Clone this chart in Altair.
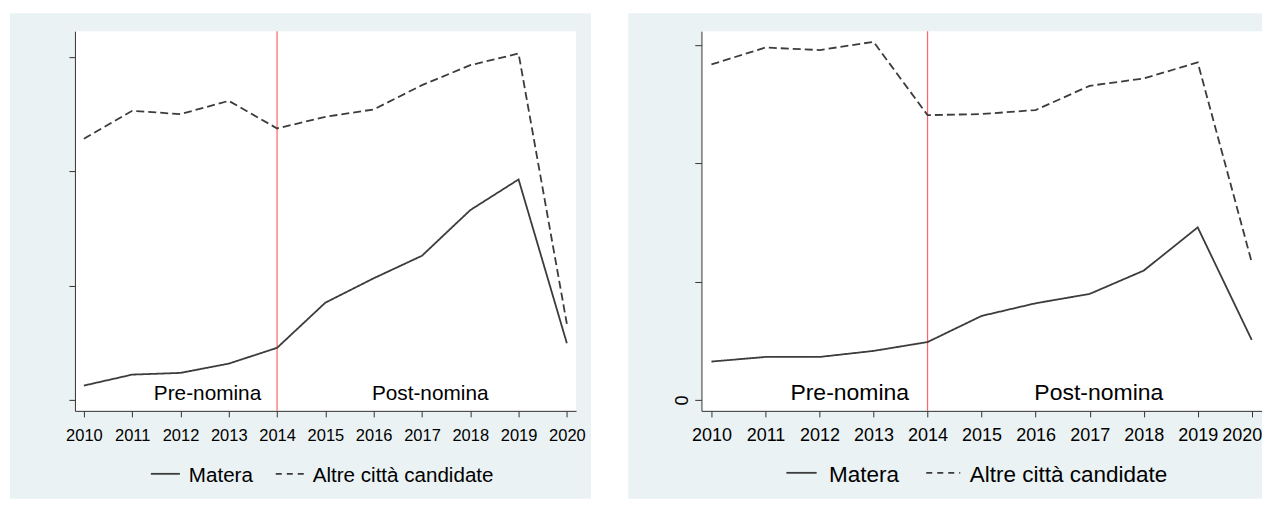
import altair as alt
import pandas as pd

# ---------------- data (values in axis-tick units) ----------------
years = list(range(2010, 2021))
series_names = ["Matera", "Altre città candidate"]

left_matera = [0.125, 0.221, 0.236, 0.317, 0.455, 0.850, 1.063, 1.260, 1.659, 1.927, 0.495]
left_altre = [2.282, 2.527, 2.498, 2.614, 2.373, 2.474, 2.539, 2.751, 2.926, 3.028, 0.664]

right_matera = [0.324, 0.363, 0.363, 0.414, 0.489, 0.710, 0.817, 0.896, 1.093, 1.459, 0.507]
right_altre = [2.837, 2.980, 2.958, 3.028, 2.408, 2.417, 2.451, 2.656, 2.718, 2.854, 1.164]

y_ticks = [0, 1, 2, 3]
nomination_year = [2014]
ann_labels = ["Pre-nomina", "Post-nomina"]
ann_x = [2012.56, 2017.17]
ann_y = [0, 0]

BG = "#eaf2f3"
INK = "#3c3c3c"
AXC = "#333333"
RED = "#ff4a4a"
FONT = "Liberation Sans, Arial, Helvetica, sans-serif"


def panel(matera, altre, W, H, ydom, tick_fs, ann_fs, leg_fs,
          bg_box, leg, ytick_size, show_zero, dash, last_shift):
    df = pd.DataFrame({
        "year": years + years,
        "value": matera + altre,
        "series": [series_names[0]] * len(years) + [series_names[1]] * len(years),
    })
    xs = alt.Scale(domain=[2009.815, 2020.19], nice=False, zero=False)
    ys = alt.Scale(domain=ydom, nice=False, zero=False)
    xkw = {}
    if last_shift is not None:
        xkw["labelAlign"] = alt.condition("datum.value == 2020", alt.value("right"), alt.value("center"))
        xkw["labelOffset"] = alt.condition("datum.value == 2020", alt.value(last_shift), alt.value(0))
    xaxis = alt.Axis(values=years, format="d", tickSize=6, labelPadding=23.7,
                     labelBaseline="alphabetic", labelFont=FONT, labelFontSize=tick_fs,
                     labelColor="black", domainColor=AXC, tickColor=AXC, grid=False,
                     title=None, labelFlush=False, labelOverlap=False, zindex=1, **xkw)
    if show_zero:
        yaxis = alt.Axis(values=y_ticks, labelExpr="datum.value == 0 ? '0' : ''",
                         labelAngle=270, labelAlign="center", labelBaseline="alphabetic",
                         labelPadding=7, tickSize=ytick_size, labelFont=FONT,
                         labelFontSize=tick_fs, labelColor="black", domainColor=AXC,
                         tickColor=AXC, grid=False, title=None, zindex=1)
    else:
        yaxis = alt.Axis(values=y_ticks, labels=False, tickSize=ytick_size,
                         domainColor=AXC, tickColor=AXC, grid=False, title=None, zindex=1)

    one = pd.DataFrame({"a": [0]})
    bg = alt.Chart(one).mark_rect(color=BG).encode(
        x=alt.value(bg_box[0]), x2=alt.value(bg_box[1]),
        y=alt.value(bg_box[2]), y2=alt.value(bg_box[3]))
    plot_bg = alt.Chart(one).mark_rect(color="white").encode(
        x=alt.value(0), x2=alt.value(W), y=alt.value(0), y2=alt.value(H))
    red = alt.Chart(pd.DataFrame({"year": nomination_year})).mark_rule(
        color=RED, strokeWidth=1.2, opacity=0.85).encode(
        x=alt.X("year:Q", scale=xs, axis=xaxis), y=alt.value(0), y2=alt.value(H))
    lines = alt.Chart(df).mark_line(color=INK, strokeWidth=1.8).encode(
        x=alt.X("year:Q", scale=xs, axis=xaxis),
        y=alt.Y("value:Q", scale=ys, axis=yaxis),
        strokeDash=alt.StrokeDash("series:N", scale=alt.Scale(domain=series_names,
                                  range=[[1, 0], dash]), legend=None),
        detail="series:N")
    ann = alt.Chart(pd.DataFrame({"x": ann_x, "y": ann_y, "label": ann_labels})).mark_text(
        font=FONT, fontSize=ann_fs, color="black", baseline="alphabetic", align="center").encode(
        x=alt.X("x:Q", scale=xs, axis=xaxis), y=alt.Y("y:Q", scale=ys, axis=yaxis), text="label:N")

    leg_solid = alt.Chart(one).mark_rule(color=INK, strokeWidth=1.8).encode(
        x=alt.value(leg[0]), x2=alt.value(leg[1]), y=alt.value(leg[2]))
    leg_dash = alt.Chart(one).mark_rule(color=INK, strokeWidth=1.8, strokeDash=[6, 5]).encode(
        x=alt.value(leg[4]), x2=alt.value(leg[5]), y=alt.value(leg[2]))
    t1 = alt.Chart(pd.DataFrame({"label": [series_names[0]]})).mark_text(
        font=FONT, fontSize=leg_fs, color="black", align="left", baseline="alphabetic").encode(
        x=alt.value(leg[3]), y=alt.value(leg[7]), text="label:N")
    t2 = alt.Chart(pd.DataFrame({"label": [series_names[1]]})).mark_text(
        font=FONT, fontSize=leg_fs, color="black", align="left", baseline="alphabetic").encode(
        x=alt.value(leg[6]), y=alt.value(leg[7]), text="label:N")

    return alt.layer(bg, plot_bg, red, lines, ann, leg_solid, leg_dash, t1, t2).properties(
        width=W, height=H)


left = panel(left_matera, left_altre, 501.5, 380, [-0.096, 3.223], 16.5, 20.8, 20.6,
             [-65, 516.5, -18, 468], [76, 105, 443, 114, 201, 230, 238, 450.7], 6, False, [8, 4],
             None)
right = panel(right_matera, right_altre, 561, 380, [-0.093, 3.118], 18, 23, 22.5,
              [-73.2, 561, -18, 468], [85, 115.3, 442, 127.6, 225, 259, 268.6, 450.7], 6.7, True, [9, 5],
              10)

chart = alt.hconcat(left, right, spacing=36).properties(
    background="white",
    padding={"left": 2, "top": 5, "right": 0, "bottom": 0},
).configure_view(stroke=None)

chart.save("out.html", embed_options={"renderer": "svg", "actions": False})
